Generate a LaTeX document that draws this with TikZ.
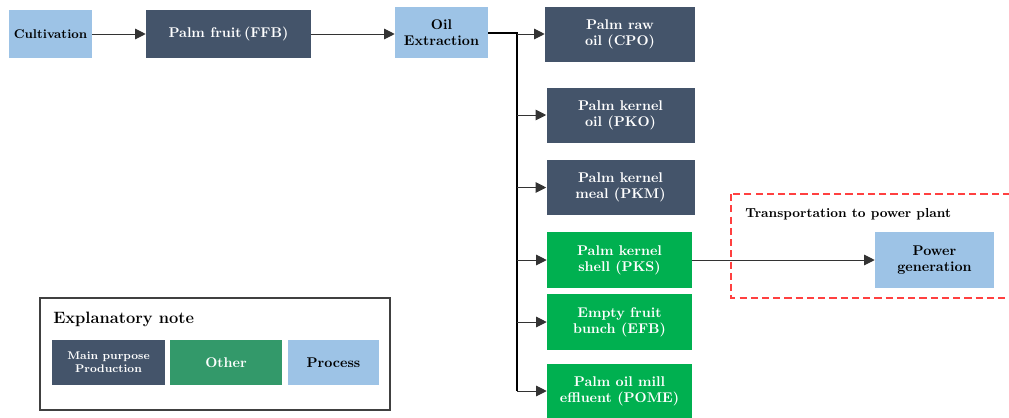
\documentclass[tikz,border=0pt]{standalone}
\usetikzlibrary{arrows.meta}
\definecolor{slate}{HTML}{44546A}
\definecolor{procblue}{HTML}{9DC3E6}
\definecolor{othgreen}{HTML}{00B050}
\definecolor{leggreen}{HTML}{33996A}
\definecolor{dashred}{HTML}{FF4040}
\tikzset{
	box/.style={minimum width=148*0.025cm, minimum height=55*0.025cm, inner sep=0pt, align=center,
		font=\fontsize{10}{11.5}\selectfont\bfseries},
	mainbox/.style={box, fill=slate, text=white},
	othbox/.style={box, fill=othgreen, text=white},
	procbox/.style={box, fill=procblue, text=black},
	arr/.style={-{Triangle[length=7.5pt,width=7.5pt]}, line width=0.7pt, black!80}
}
\begin{document}
\begin{tikzpicture}[x=0.025cm, y=-0.025cm]
	\useasboundingbox (0,0) rectangle (1009,417);
	% chain at the top
	\node[procbox, minimum width=83*0.025cm, minimum height=48*0.025cm, font=\fontsize{9}{10.5}\selectfont\bfseries] (cult) at (50.5,34) {Cultivation};
	\node[mainbox, minimum width=165*0.025cm, minimum height=48*0.025cm] (ffb) at (228.5,34) {Palm fruit\,(FFB)};
	\node[procbox, minimum width=93*0.025cm, minimum height=51*0.025cm] (oil) at (441.5,32.5) {Oil\\Extraction};
	\draw[arr] (cult) -- (ffb);
	\draw[arr] (ffb.east) -- (oil.west |- ffb.east);
	% products
	\node[mainbox, minimum width=150*0.025cm] (cpo) at (620,34) {Palm raw\\oil (CPO)};
	\node[mainbox] (pko) at (620.5,115) {Palm kernel\\oil (PKO)};
	\node[mainbox] (pkm) at (620.5,187.5) {Palm kernel\\meal (PKM)};
	\node[othbox, minimum width=145*0.025cm, minimum height=56*0.025cm] (pks) at (619.5,260) {Palm kernel\\shell (PKS)};
	\node[othbox, minimum width=145*0.025cm, minimum height=56*0.025cm] (efb) at (619.5,322) {Empty fruit\\bunch (EFB)};
	\node[othbox, minimum width=145*0.025cm, minimum height=54*0.025cm] (pome) at (619.5,391) {Palm oil mill\\effluent (POME)};
	\coordinate (br) at (517,33);
	\draw[line width=1.1pt] (oil.east |- br) -- (br) -- (br |- pome);
	\foreach \n in {cpo,pko,pkm,pks,efb,pome}
		\draw[arr] (br |- \n) -- (\n.west);
	% power plant part
	\draw[dashred, dashed, line width=1.1pt, dash pattern=on 5pt off 3pt] (731,194) rectangle (1014,298);
	\node[anchor=west, inner sep=0pt, font=\fontsize{9.3}{10.5}\selectfont\bfseries] (trans) at (745,214) {Transportation to power plant};
	\node[procbox, minimum width=119*0.025cm, minimum height=56*0.025cm] (power) at (934.5,260) {Power\\generation};
	\draw[arr] (pks) -- (power);
	% legend
	\draw[line width=1pt, black!75] (40,298) rectangle (390,410);
	\node[anchor=west, inner sep=0pt, font=\fontsize{11.7}{13}\selectfont\bfseries] (legtitle) at (53,319) {Explanatory note};
	\node[mainbox, minimum width=113*0.025cm, minimum height=45*0.025cm, font=\fontsize{7.9}{9.5}\selectfont\bfseries] (legmain) at (108.5,362.5) {Main purpose\\Production};
	\node[box, fill=leggreen, text=white, minimum width=112*0.025cm, minimum height=45*0.025cm] (legoth) at (226,362.5) {Other};
	\node[procbox, minimum width=91*0.025cm, minimum height=45*0.025cm] (legproc) at (333.5,362.5) {Process};
\end{tikzpicture}
\end{document}
